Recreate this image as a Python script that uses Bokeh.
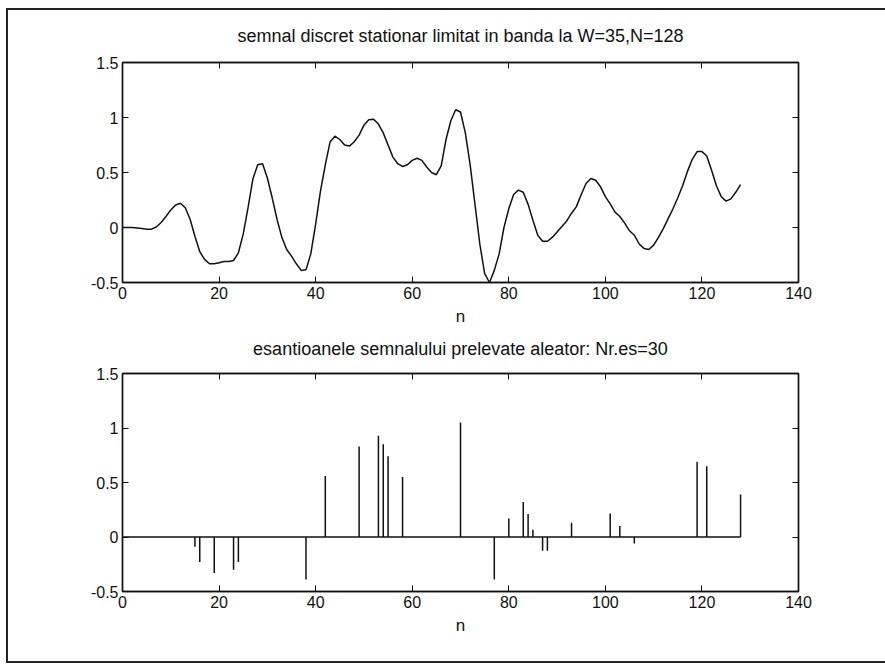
from bokeh.plotting import figure
from bokeh.layouts import column
from bokeh.models import FixedTicker, LinearAxis, CustomJSTickFormatter, InlineStyleSheet
from bokeh.embed import file_html
from bokeh.resources import INLINE

# ---------------- data ----------------
title_top = "semnal discret stationar limitat in banda la W=35,N=128"
title_bottom = "esantioanele semnalului prelevate aleator: Nr.es=30"
x_label = "n"
x_ticks = [0, 20, 40, 60, 80, 100, 120, 140]
y_ticks = [-0.5, 0, 0.5, 1, 1.5]

n = list(range(0, 129))
signal = [
    0.00, 0.00, 0.00, -0.005, -0.01, -0.015, -0.015, 0.005, 0.045, 0.10,
    0.16, 0.205, 0.22, 0.18, 0.075, -0.08, -0.22, -0.29, -0.33, -0.33,
    -0.32, -0.31, -0.31, -0.30, -0.23, -0.06, 0.18, 0.44, 0.57, 0.58,
    0.45, 0.27, 0.075, -0.09, -0.20, -0.26, -0.33, -0.39, -0.385, -0.24,
    0.03, 0.33, 0.57, 0.78, 0.83, 0.80, 0.75, 0.74, 0.78, 0.84,
    0.93, 0.98, 0.985, 0.94, 0.86, 0.75, 0.64, 0.58, 0.555, 0.57,
    0.61, 0.63, 0.61, 0.55, 0.50, 0.48, 0.56, 0.80, 0.97, 1.07,
    1.05, 0.86, 0.57, 0.21, -0.15, -0.42, -0.50, -0.39, -0.24, 0.0,
    0.17, 0.30, 0.34, 0.32, 0.21, 0.066, -0.07, -0.125, -0.125, -0.09,
    -0.04, 0.01, 0.06, 0.13, 0.19, 0.30, 0.40, 0.445, 0.43, 0.37,
    0.28, 0.215, 0.14, 0.10, 0.04, -0.03, -0.07, -0.15, -0.19, -0.20,
    -0.16, -0.09, -0.01, 0.08, 0.17, 0.27, 0.38, 0.51, 0.62, 0.69,
    0.69, 0.65, 0.52, 0.38, 0.28, 0.24, 0.26, 0.32, 0.39,
]

sample_n = [15, 16, 19, 23, 24, 38, 42, 49, 53, 54, 55, 58, 70, 77, 80, 83, 84,
            85, 87, 88, 93, 101, 103, 106, 119, 121, 128]
sample_values = [-0.09, -0.23, -0.33, -0.30, -0.23, -0.39, 0.56, 0.83, 0.93, 0.85,
                 0.74, 0.55, 1.05, -0.39, 0.17, 0.32, 0.21, 0.066, -0.125, -0.125,
                 0.13, 0.215, 0.10, -0.06, 0.69, 0.65, 0.39]

# ---------------- styling ----------------
FONT = "Liberation Sans"
INK = "#111111"
fmt = CustomJSTickFormatter(code="return tick.toString();")


def make_fig(title, border_top, border_bottom, title_standoff):
    p = figure(width=885, height=332, x_range=(0, 140), y_range=(-0.5, 1.5),
               output_backend="svg", toolbar_location=None, title=None,
               min_border_left=122, min_border_right=87,
               min_border_top=border_top, min_border_bottom=border_bottom,
               x_axis_label=x_label)
    p.xgrid.grid_line_color = None
    p.ygrid.grid_line_color = None
    p.outline_line_color = INK
    p.outline_line_width = 1.4
    p.background_fill_color = "white"
    p.border_fill_color = "white"

    for ax, ticks in ((p.xaxis[0], x_ticks), (p.yaxis[0], y_ticks)):
        ax.ticker = FixedTicker(ticks=ticks)
        ax.formatter = fmt
        ax.major_tick_in = 6
        ax.major_tick_out = 0
        ax.minor_tick_in = 0
        ax.minor_tick_out = 0
        ax.axis_line_color = INK
        ax.axis_line_width = 1.4
        ax.major_tick_line_color = INK
        ax.major_label_text_font = FONT
        ax.major_label_text_font_size = "16px"
        ax.major_label_text_color = INK
        ax.major_label_standoff = 4
    p.xaxis[0].axis_label_text_font = FONT
    p.xaxis[0].axis_label_text_font_size = "17px"
    p.xaxis[0].axis_label_text_font_style = "normal"
    p.xaxis[0].axis_label_text_color = INK
    p.xaxis[0].axis_label_standoff = 5

    # top axis: ticks only, carries the subplot title as its label
    top = LinearAxis(ticker=FixedTicker(ticks=x_ticks), formatter=fmt,
                     major_tick_in=6, major_tick_out=0,
                     minor_tick_in=0, minor_tick_out=0,
                     major_label_text_color=None, major_label_standoff=0,
                     axis_line_color=INK, axis_line_width=1.4,
                     major_tick_line_color=INK,
                     axis_label=title, axis_label_standoff=title_standoff,
                     axis_label_text_font=FONT, axis_label_text_font_size="18px",
                     axis_label_text_font_style="normal", axis_label_text_color=INK)
    p.add_layout(top, "above")
    right = LinearAxis(ticker=FixedTicker(ticks=y_ticks), formatter=fmt,
                       major_tick_in=6, major_tick_out=0,
                       minor_tick_in=0, minor_tick_out=0,
                       major_label_text_color=None, major_label_standoff=0,
                       axis_line_color=INK, axis_line_width=1.4,
                       major_tick_line_color=INK)
    p.add_layout(right, "right")
    return p


p1 = make_fig(title_top, 62, 50, 17)
p1.line(x=n, y=signal, line_color=INK, line_width=1.5)

p2 = make_fig(title_bottom, 41, 73, 15)
p2.line(x=[n[0], n[-1]], y=[0, 0], line_color=INK, line_width=1.5)
p2.segment(x0=sample_n, y0=[0] * len(sample_n), x1=sample_n, y1=sample_values,
           line_color=INK, line_width=1.5)

css = """
:host { position: relative; overflow: hidden; background: white; }
:host::after { content: ''; position: absolute; left: 6px; top: 8px; width: 900px;
  height: 655px; border: 2px solid #222; box-sizing: border-box;
  pointer-events: none; z-index: 10; }
"""
layout = column(p1, p2, spacing=0, stylesheets=[InlineStyleSheet(css=css)])

open("out.html", "w").write(file_html(layout, INLINE))
